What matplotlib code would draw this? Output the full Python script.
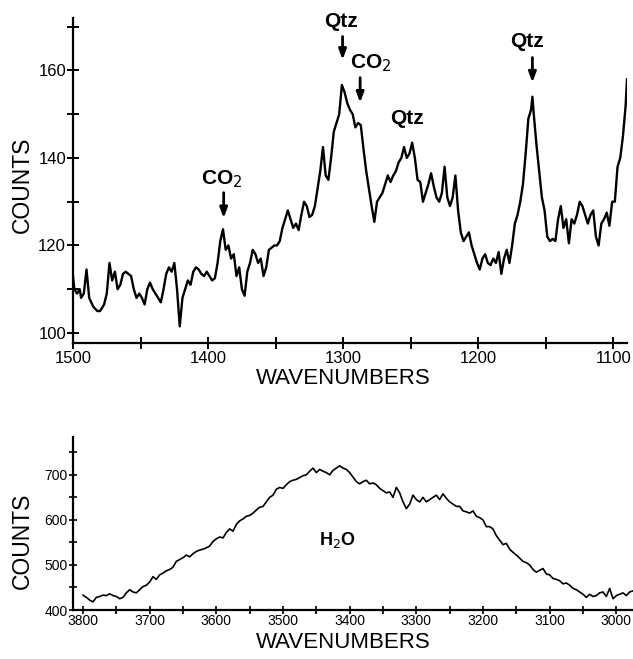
import matplotlib
matplotlib.use("Agg")
import matplotlib.pyplot as plt
from matplotlib import font_manager
from matplotlib.ticker import MultipleLocator

# ---------------- data: upper spectrum (1500-1090 cm-1) ----------------
wn_top = [1500, 1499, 1497, 1495, 1494, 1492, 1490, 1488, 1485, 1482, 1480, 1477, 1475,
          1473, 1471, 1469, 1467, 1465, 1463, 1461, 1459, 1457, 1455, 1453, 1451, 1449,
          1447, 1445, 1443, 1441, 1439, 1437, 1435, 1433, 1431, 1429, 1427, 1425, 1423,
          1421, 1419, 1417, 1415, 1413, 1411, 1409, 1407, 1405, 1403, 1401, 1399, 1397,
          1395, 1393, 1391, 1389, 1387, 1385, 1383, 1381, 1379, 1377, 1375, 1373, 1371,
          1369, 1367, 1365, 1363, 1361, 1359, 1357, 1355, 1353, 1351, 1349, 1347, 1345,
          1343, 1341, 1339, 1337, 1335, 1333, 1331, 1329, 1327, 1325, 1323, 1321, 1319,
          1317, 1315, 1313, 1311, 1309, 1307, 1305, 1303, 1301, 1299, 1297, 1295, 1293,
          1291, 1289, 1287, 1285, 1283, 1281, 1279, 1277, 1275, 1273, 1271, 1269, 1267,
          1265, 1263, 1261, 1259, 1257, 1255, 1253, 1251, 1249, 1247, 1245, 1243, 1241,
          1239, 1237, 1235, 1233, 1231, 1229, 1227, 1225, 1223, 1221, 1219, 1217, 1215,
          1213, 1211, 1209, 1207, 1205, 1203, 1201, 1199, 1197, 1195, 1193, 1191, 1189,
          1187, 1185, 1183, 1181, 1179, 1177, 1175, 1173, 1171, 1169, 1167, 1165, 1163,
          1161, 1160, 1159, 1157, 1155, 1153, 1151, 1149, 1147, 1145, 1143, 1141, 1139,
          1137, 1135, 1133, 1131, 1129, 1127, 1125, 1123, 1121, 1119, 1117, 1115, 1113,
          1111, 1109, 1107, 1105, 1103, 1101, 1099, 1097, 1095, 1093, 1091, 1090]
counts_top = [113, 110, 109, 110, 108, 109, 114.5, 108, 106, 105, 105, 106.5, 109,
              116, 112, 114, 110, 111, 113.5, 114, 113.5, 113, 110, 108, 109, 108,
              106.5, 110, 111.5, 110, 109, 108, 107, 110, 113.5, 115, 114, 116, 110,
              101.5, 108, 110, 112, 111, 114, 115, 114.5, 113.5, 113, 114, 113, 112,
              112.5, 116, 121, 123.7, 119, 120, 117, 118, 113, 115, 110, 108.5, 114,
              116, 119, 118, 116, 117, 113, 115, 119, 119.5, 120, 120, 121, 124,
              126, 128, 126, 124, 125, 123.5, 127, 130, 129, 126.5, 127, 129, 133,
              137, 142.5, 136, 135, 140, 146, 148, 150, 156.7, 155, 152.5, 151, 150,
              147, 148, 147.5, 142, 137, 133, 129, 125.4, 130, 131, 132, 134, 136,
              134.5, 136, 137, 139, 140, 142.5, 140, 141, 143.5, 140, 135, 134.5, 130,
              132, 134, 136.5, 133.5, 131, 130, 132, 138, 131, 129, 131, 136, 128,
              123, 121, 122, 123, 120, 118, 116, 114.5, 117, 118, 116, 115.5, 117,
              116, 118.5, 113.5, 117, 119, 116, 120, 125, 127, 130, 134, 141, 149,
              151, 154, 150, 143, 137, 131, 128, 122, 121, 121.5, 121, 126, 129,
              124, 126, 120.5, 126, 125, 127, 130, 129, 127, 125, 127, 128, 122,
              120, 125, 126, 127.5, 124.5, 130, 130, 138, 140, 145, 152, 158]

# ---------------- data: lower spectrum (3815-2975 cm-1) ----------------
wn_bot = [3800, 3795, 3790, 3785, 3780, 3775, 3770, 3765, 3760, 3755, 3750, 3745, 3740,
          3735, 3730, 3725, 3720, 3715, 3710, 3705, 3700, 3695, 3690, 3685, 3680, 3675,
          3670, 3665, 3660, 3655, 3650, 3645, 3640, 3635, 3630, 3625, 3620, 3615, 3610,
          3605, 3600, 3595, 3590, 3585, 3580, 3575, 3570, 3565, 3560, 3555, 3550, 3545,
          3540, 3535, 3530, 3525, 3520, 3515, 3510, 3505, 3500, 3495, 3490, 3485, 3480,
          3475, 3470, 3465, 3460, 3455, 3450, 3445, 3440, 3435, 3430, 3425, 3420, 3415,
          3410, 3405, 3400, 3395, 3390, 3385, 3380, 3375, 3370, 3365, 3360, 3355, 3350,
          3345, 3340, 3335, 3330, 3325, 3320, 3315, 3310, 3305, 3300, 3295, 3290, 3285,
          3280, 3275, 3270, 3265, 3260, 3255, 3250, 3245, 3240, 3235, 3230, 3225, 3220,
          3215, 3210, 3205, 3200, 3195, 3190, 3185, 3180, 3175, 3170, 3165, 3160, 3155,
          3150, 3145, 3140, 3135, 3130, 3125, 3120, 3115, 3110, 3105, 3100, 3095, 3090,
          3085, 3080, 3075, 3070, 3065, 3060, 3055, 3050, 3045, 3040, 3035, 3030, 3025,
          3020, 3015, 3010, 3005, 3000, 2995, 2990, 2985, 2980, 2976]
counts_bot = [433, 428, 422, 418, 428, 430, 433, 432, 436, 432, 430, 425, 428,
              438, 445, 440, 438, 445, 452, 455, 462, 474, 468, 478, 482, 487,
              490, 495, 508, 512, 516, 522, 518, 525, 530, 533, 535, 538, 542,
              552, 558, 562, 560, 572, 580, 575, 590, 598, 602, 608, 610, 615,
              622, 628, 630, 640, 650, 655, 668, 672, 670, 678, 685, 688, 690,
              694, 698, 700, 708, 715, 705, 712, 708, 705, 700, 710, 715, 720,
              715, 712, 705, 695, 685, 680, 685, 688, 680, 682, 678, 670, 665,
              660, 662, 650, 672, 660, 640, 625, 635, 655, 645, 640, 650, 640,
              645, 650, 655, 645, 658, 648, 640, 635, 630, 630, 620, 618, 615,
              620, 608, 605, 600, 585, 585, 580, 565, 555, 545, 548, 535, 528,
              522, 515, 508, 505, 500, 490, 484, 488, 492, 480, 478, 470, 468,
              465, 458, 460, 455, 448, 445, 440, 435, 428, 435, 430, 432, 438,
              440, 430, 448, 425, 432, 435, 438, 432, 440, 442]

# ---------------- annotations ----------------
peak_labels = ["CO$_2$", "Qtz", "CO$_2$", "Qtz", "Qtz"]
peak_text_xy = [(1390, 135.2), (1302, 171.3), (1280, 161.6), (1253, 149.0), (1164, 166.6)]
peak_arrow_x = [1388.5, 1300.5, 1287.5, None, 1160]
peak_arrow_y = [(132.7, 125.6), (168.4, 161.8), (159.0, 152.0), None, (163.6, 156.6)]

# ---------------- fonts ----------------
def pick(*names):
    for n in names:
        try:
            font_manager.findfont(n, fallback_to_default=False)
            return n
        except Exception:
            pass
    return "DejaVu Sans"

main_font = pick("Liberation Sans", "Arial")
narrow_font = pick("Liberation Sans Narrow", "Liberation Sans")
plt.rcParams["font.family"] = [main_font, "DejaVu Sans"]

W, H = 633, 659
fig = plt.figure(figsize=(W / 100, H / 100), dpi=100)

def frac(l, t, r, b):
    return [l / W, 1 - b / H, (r - l) / W, (b - t) / H]

def style(ax):
    for s in ("top", "right"):
        ax.spines[s].set_visible(False)
    for s in ("left", "bottom"):
        ax.spines[s].set_linewidth(1.6)
    ax.tick_params(which="both", direction="inout", width=1.4, colors="black")
    ax.tick_params(which="major", length=8)
    ax.tick_params(which="minor", length=8)

# ---- upper panel ----
ax1 = fig.add_axes(frac(73, 18, 627, 343))
ax1.plot(wn_top, counts_top, color="black", lw=1.7)
ax1.set_xlim(1500, 1090)
ax1.set_ylim(97.7, 172)
ax1.set_xticks([1500, 1400, 1300, 1200, 1100])
ax1.xaxis.set_minor_locator(MultipleLocator(50))
ax1.set_yticks([100, 120, 140, 160])
ax1.yaxis.set_minor_locator(MultipleLocator(10))
style(ax1)
for lab in ax1.get_xticklabels() + ax1.get_yticklabels():
    lab.set_fontfamily(narrow_font)
    lab.set_fontsize(12)
ax1.tick_params(axis="x", pad=2)
ax1.tick_params(axis="y", pad=1)

for lab, (tx, ty), axx, ayy in zip(peak_labels, peak_text_xy, peak_arrow_x, peak_arrow_y):
    ax1.text(tx, ty, lab, ha="center", va="center", fontsize=15, fontweight="bold")
    if axx is not None:
        ax1.annotate("", xy=(axx, ayy[1]), xytext=(axx, ayy[0]),
                     arrowprops=dict(arrowstyle="-|>,head_length=0.6,head_width=0.22",
                                     color="black", lw=2.0))

fig.text(22 / W, 1 - 185 / H, "COUNTS", rotation=90, ha="center", va="center", fontsize=16.5)
fig.text(343 / W, 1 - 379 / H, "WAVENUMBERS", ha="center", va="center", fontsize=16)

# ---- lower panel ----
ax2 = fig.add_axes(frac(73, 437, 633, 610))
ax2.plot(wn_bot, counts_bot, color="black", lw=1.2)
ax2.set_xlim(3815, 2975)
ax2.set_ylim(400, 784)
ax2.set_xticks([3800, 3700, 3600, 3500, 3400, 3300, 3200, 3100, 3000])
ax2.xaxis.set_minor_locator(MultipleLocator(50))
ax2.set_yticks([400, 500, 600, 700])
ax2.yaxis.set_minor_locator(MultipleLocator(50))
style(ax2)
ax2.tick_params(which="both", length=6, width=1.2)
for lab in ax2.get_xticklabels() + ax2.get_yticklabels():
    lab.set_fontfamily(narrow_font)
    lab.set_fontsize(10)
ax2.tick_params(axis="x", pad=0)
ax2.tick_params(axis="y", pad=1)
ax2.text(3419, 555, "H$_2$O", ha="center", va="center", fontsize=13, fontweight="bold")

fig.text(22 / W, 1 - 541 / H, "COUNTS", rotation=90, ha="center", va="center", fontsize=16.5)
fig.text(343 / W, 1 - 643 / H, "WAVENUMBERS", ha="center", va="center", fontsize=16)

fig.savefig("out.png", dpi=100, facecolor="white")
